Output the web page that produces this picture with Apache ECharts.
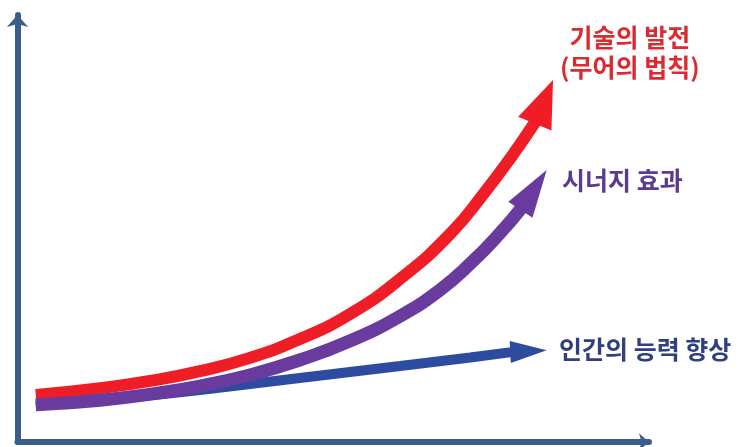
<!DOCTYPE html>
<html>
<head>
<meta charset="utf-8">
<script src="https://cdn.jsdelivr.net/npm/echarts@6/dist/echarts.min.js"></script>
<style>html,body{margin:0;padding:0;background:#fff}#c{width:747px;height:447px}</style>
</head>
<body>
<div id="c"></div>
<script>
// Series names (labels)
const techLabel = '기술의 발전\n(무어의 법칙)';
const synergyLabel = '시너지 효과';
const humanLabel = '인간의 능력 향상';

// Curve values [x, y] (arbitrary 0-100 units); last point = arrowhead base
const techX = [2.9, 13.1, 21.0, 28.9, 36.8, 44.7, 52.7, 60.6, 68.5, 74.0, 78.3, 82.1];
const techY = [11.0, 12.6, 14.3, 16.6, 19.7, 24.1, 30.0, 38.2, 48.7, 58.5, 67.0, 75.2];

const synX = [2.9, 13.1, 21.0, 28.9, 36.8, 44.7, 52.7, 60.6, 66.9, 71.8, 76.4, 79.9];
const synY = [8.7, 9.8, 11.2, 13.1, 15.7, 19.2, 23.7, 29.5, 35.6, 41.9, 48.9, 55.0];

const humX = [2.9, 13.1, 28.9, 44.7, 60.6, 71.7, 78.5];
const humY = [8.4, 9.8, 12.2, 15.0, 17.8, 19.8, 21.1];

// Arrowhead tips [x, y]
const techTip = [84.8, 84.8];
const synTip = [83.8, 63.7];
const humTip = [83.8, 21.5];

const axisColor = '#3a5d8c';
const chart = echarts.init(document.getElementById('c'));

function pairs(xs, ys) { return xs.map((x, i) => [x, ys[i]]); }

const defs = [
  {name: humanLabel, xs: humX, ys: humY, tip: humTip, color: '#2d4b9f', w: 10, head: 22},
  {name: techLabel, xs: techX, ys: techY, tip: techTip, color: '#ef1d26', w: 12, head: 36},
  {name: synergyLabel, xs: synX, ys: synY, tip: synTip, color: '#6a3b9f', w: 13, head: 29}
];

const series = [];
defs.forEach((d, k) => {
  series.push({
    type: 'line', name: d.name, data: pairs(d.xs, d.ys), smooth: 0.5, clip: false,
    showSymbol: false, silent: true, animation: false,
    lineStyle: {color: d.color, width: d.w, cap: 'butt'},
    itemStyle: {color: d.color}, z: 2 + 2 * k
  });
  const n = d.xs.length;
  series.push({
    type: 'custom', name: d.name + ' arrow', silent: true, animation: false, clip: false,
    z: 3 + 2 * k,
    data: [[d.xs[n - 1], d.ys[n - 1], d.tip[0], d.tip[1]]],
    renderItem: function (params, api) {
      const b = api.coord([api.value(0), api.value(1)]);
      const t = api.coord([api.value(2), api.value(3)]);
      const dx = t[0] - b[0], dy = t[1] - b[1];
      const len = Math.sqrt(dx * dx + dy * dy);
      const px = -dy / len * d.head / 2, py = dx / len * d.head / 2;
      const ux = dx / len * 3, uy = dy / len * 3;
      return {
        type: 'polygon',
        shape: {points: [t, [b[0] + px - ux, b[1] + py - uy], [b[0] - px - ux, b[1] - py - uy]]},
        style: {fill: d.color}
      };
    }
  });
});

const axisBase = {
  type: 'value', min: 0, max: 100,
  axisTick: {show: false}, axisLabel: {show: false}, splitLine: {show: false}
};

const labelFont = 'bold 25px "Noto Sans CJK KR"';
const option = {
  animation: false,
  grid: {left: 17.5, right: 98, top: 15, bottom: 5},
  xAxis: Object.assign({}, axisBase, {
    axisLine: {show: true, symbol: ['none', 'arrow'], symbolSize: [13, 10],
               lineStyle: {color: axisColor, width: 6}}
  }),
  yAxis: Object.assign({}, axisBase, {
    axisLine: {show: true, symbol: ['none', 'arrow'], symbolSize: [16, 12],
               lineStyle: {color: axisColor, width: 6}}
  }),
  series: series,
  graphic: [
    {type: 'text', left: 560, top: 22, style: {text: techLabel, fill: '#dc2a30',
      font: labelFont, textAlign: 'center', lineHeight: 30, x: 70}},
    {type: 'text', left: 562, top: 168, style: {text: synergyLabel, fill: '#5c3b8c',
      font: labelFont}},
    {type: 'text', left: 559, top: 337, style: {text: humanLabel, fill: '#2f3f80',
      font: labelFont}}
  ]
};
chart.setOption(option);
</script>
</body>
</html>
